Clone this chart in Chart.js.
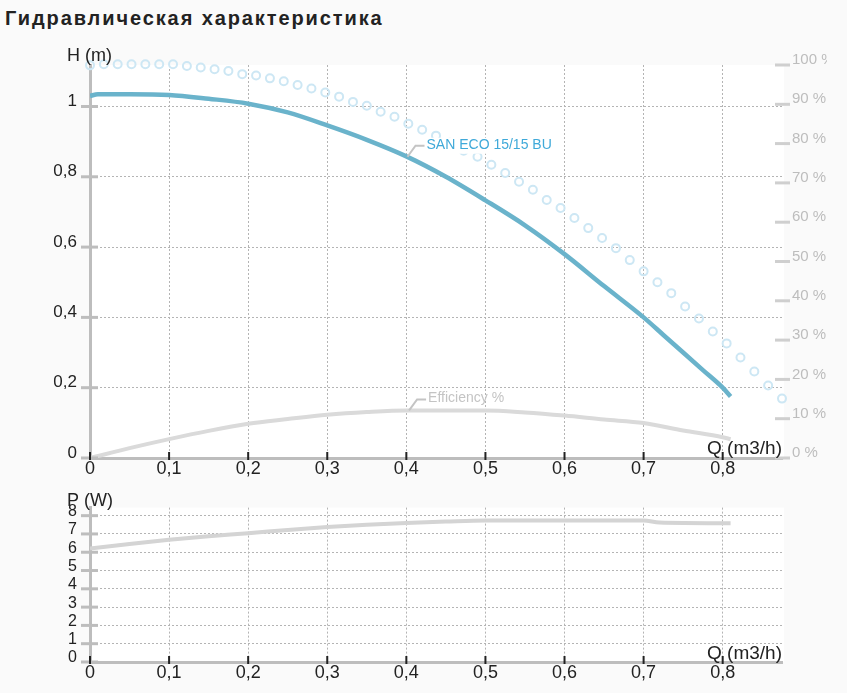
<!DOCTYPE html>
<html>
<head>
<meta charset="utf-8">
<script src="https://cdn.jsdelivr.net/npm/chart.js@4.4.1/dist/chart.umd.min.js"></script>
<style>
  html, body { margin: 0; padding: 0; background: #fafafa; }
  body { width: 847px; height: 693px; position: relative; overflow: hidden; font-family: "Liberation Sans", Arial, sans-serif; }
  #title { position: absolute; left: 5px; top: 6px; font-weight: bold; font-size: 20px; line-height: 24px; color: #222; letter-spacing: 1.9px; }
  #topBox { position: absolute; left: 0; top: 40px; width: 827px; height: 445px; }
  #botBox { position: absolute; left: 0; top: 485px; width: 827px; height: 208px; }
</style>
</head>
<body>
<div id="title">Гидравлическая характеристика</div>
<div id="topBox"><canvas id="headChart"></canvas></div>
<div id="botBox"><canvas id="powerChart"></canvas></div>
<script>
// pump curve H(Q)
const qHead = [0, 0.01, 0.05, 0.1, 0.15, 0.2, 0.25, 0.3, 0.35, 0.4, 0.45, 0.5, 0.55, 0.6, 0.65, 0.7, 0.725, 0.75, 0.775, 0.8, 0.81];
const headH = [1.03, 1.035, 1.035, 1.033, 1.022, 1.008, 0.983, 0.946, 0.905, 0.858, 0.80, 0.733, 0.662, 0.58, 0.489, 0.40, 0.35, 0.30, 0.25, 0.20, 0.175];

// max curve (circles)
const qMax = [0, 0.0175, 0.035, 0.0525, 0.07, 0.0875, 0.105, 0.1225, 0.14, 0.1575, 0.175, 0.1925, 0.21, 0.2275, 0.245, 0.2625, 0.28,
  0.2975, 0.315, 0.3325, 0.35, 0.3675, 0.385, 0.4025, 0.42, 0.4375, 0.455, 0.4725, 0.49, 0.5075, 0.525, 0.5425, 0.56, 0.5775,
  0.595, 0.6125, 0.63, 0.6475, 0.665, 0.6825, 0.7, 0.7175, 0.735, 0.7525, 0.77, 0.7875, 0.805, 0.8225, 0.84, 0.8575, 0.875];
const maxH = [1.117, 1.12, 1.12, 1.12, 1.12, 1.12, 1.12, 1.115, 1.111, 1.106, 1.101, 1.092, 1.088, 1.08, 1.072, 1.061, 1.051,
  1.04, 1.028, 1.013, 1.002, 0.985, 0.971, 0.951, 0.934, 0.917, 0.897, 0.874, 0.857, 0.834, 0.811, 0.786, 0.763, 0.734,
  0.711, 0.683, 0.654, 0.626, 0.597, 0.563, 0.531, 0.5, 0.469, 0.431, 0.397, 0.36, 0.326, 0.286, 0.246, 0.206, 0.169];

// efficiency %
const qEff = [0, 0.05, 0.1, 0.15, 0.2, 0.25, 0.3, 0.35, 0.4, 0.45, 0.5, 0.55, 0.6, 0.65, 0.7, 0.75, 0.8, 0.81];
const effPct = [0, 2.5, 4.8, 6.9, 8.7, 9.9, 11.0, 11.7, 12.1, 12.1, 12.1, 11.6, 10.8, 9.8, 8.9, 7.0, 5.3, 4.8];

// power W
const qPow = [0, 0.05, 0.1, 0.15, 0.2, 0.25, 0.3, 0.35, 0.4, 0.45, 0.5, 0.6, 0.7, 0.72, 0.81];
const powerW = [6.2, 6.45, 6.68, 6.88, 7.04, 7.22, 7.38, 7.5, 7.6, 7.68, 7.74, 7.74, 7.74, 7.62, 7.58];

// tick labels
const qTicks = ['0', '0,1', '0,2', '0,3', '0,4', '0,5', '0,6', '0,7', '0,8'];
const hTicks = ['0', '0,2', '0,4', '0,6', '0,8', '1'];
const pctTicks = ['0 %', '10 %', '20 %', '30 %', '40 %', '50 %', '60 %', '70 %', '80 %', '90 %', '100 %'];
const pTicks = ['0', '1', '2', '3', '4', '5', '6', '7', '8'];

const pumpName = 'SAN ECO 15/15 BU';
const effName = 'Efficiency %';

Chart.defaults.font.family = '"Liberation Sans", Arial, sans-serif';
Chart.defaults.color = '#222';

const toXY = (xs, ys) => xs.map((x, i) => ({ x: x, y: ys[i] }));

const plotBg = {
  id: 'plotBg',
  beforeDraw(chart) {
    const { ctx, chartArea: a } = chart;
    ctx.save();
    ctx.fillStyle = '#ffffff';
    ctx.fillRect(a.left, a.top, a.right - a.left + 2, a.bottom - a.top);
    ctx.restore();
  }
};

const decor = {
  id: 'decor',
  afterDraw(chart, args, o) {
    const { ctx, chartArea: a, scales } = chart;
    const xs = scales.x, ys = scales.y;
    ctx.save();
    // grey dashes across the left axis
    ctx.strokeStyle = '#bdbdbd';
    ctx.lineWidth = 3;
    ys.ticks.forEach((t, i) => {
      const y = ys.getPixelForTick(i);
      ctx.beginPath(); ctx.moveTo(a.left - 9, y); ctx.lineTo(a.left + 8, y); ctx.stroke();
    });
    // right axis dashes
    if (scales.y1) {
      ctx.strokeStyle = '#cfcfcf';
      scales.y1.ticks.forEach((t, i) => {
        const y = scales.y1.getPixelForTick(i);
        ctx.beginPath(); ctx.moveTo(a.right - 7, y); ctx.lineTo(a.right + 8, y); ctx.stroke();
      });
    }
    // small black ticks on the Q axis
    ctx.strokeStyle = '#222';
    ctx.lineWidth = 2;
    xs.ticks.forEach((t, i) => {
      const x = xs.getPixelForTick(i);
      ctx.beginPath(); ctx.moveTo(x, a.bottom - 6); ctx.lineTo(x, a.bottom + 2); ctx.stroke();
    });
    // axis titles
    ctx.fillStyle = '#222';
    ctx.textBaseline = 'middle';
    ctx.font = '18px "Liberation Sans", Arial, sans-serif';
    ctx.textAlign = 'left';
    ctx.fillText(o.yTitle, a.left - 23, a.top + o.yTitleDy);
    ctx.font = '19px "Liberation Sans", Arial, sans-serif';
    ctx.textAlign = 'right';
    ctx.fillText('Q (m3/h)', a.right, a.bottom + o.xTitleDy);
    // series labels with leader lines
    (o.notes || []).forEach(n => {
      const px = xs.getPixelForValue(n.q);
      const py = scales[n.axis].getPixelForValue(n.v);
      ctx.font = '14px "Liberation Sans", Arial, sans-serif';
      ctx.textAlign = 'left';
      const w = ctx.measureText(n.text).width;
      if (n.bg) {
        ctx.fillStyle = '#ffffff';
        ctx.fillRect(px + 16, py - 19, w + 4, 16);
      }
      ctx.strokeStyle = '#c4c4c4';
      ctx.lineWidth = 2;
      ctx.beginPath();
      ctx.moveTo(px - 2, py);
      ctx.lineTo(px + 6, py - 11);
      ctx.lineTo(px + 15, py - 11);
      ctx.stroke();
      ctx.fillStyle = n.color;
      ctx.fillText(n.text, px + 17, py - 12);
    });
    ctx.restore();
  }
};

const gridStyle = { color: '#b4b4b4', lineWidth: 1, drawTicks: false };
const axisBorder = { color: '#bdbdbd', width: 3, dash: [2, 2] };

new Chart(document.getElementById('headChart'), {
  type: 'line',
  data: {
    datasets: [
      {
        data: toXY(qMax, maxH),
        showLine: false,
        pointRadius: 4,
        pointBorderWidth: 2,
        pointBorderColor: '#cde7f4',
        pointBackgroundColor: 'rgba(0,0,0,0)',
        yAxisID: 'y',
        clip: 8
      },
      {
        data: toXY(qEff, effPct),
        borderColor: '#dadada',
        borderWidth: 4,
        pointRadius: 0,
        tension: 0.3,
        cubicInterpolationMode: 'monotone',
        yAxisID: 'y1'
      },
      {
        data: toXY(qHead, headH),
        borderColor: '#6ab3cb',
        borderWidth: 4.5,
        pointRadius: 0,
        tension: 0.3,
        cubicInterpolationMode: 'monotone',
        yAxisID: 'y'
      }
    ]
  },
  options: {
    responsive: true,
    maintainAspectRatio: false,
    animation: false,
    layout: { padding: { top: 25, left: 0, right: 0, bottom: 0 } },
    plugins: {
      legend: { display: false },
      tooltip: { enabled: false },
      decor: {
        yTitle: 'H (m)', yTitleDy: -9, xTitleDy: -9,
        notes: [
          { q: 0.404, v: 0.857, axis: 'y', text: pumpName, color: '#3fa9d9', bg: true },
          { q: 0.406, v: 12.1, axis: 'y1', text: effName, color: '#c4c4c4', bg: false }
        ]
      }
    },
    scales: {
      x: {
        type: 'linear', min: 0, max: 0.875,
        afterFit: s => { s.height = 27; },
        grid: gridStyle,
        border: axisBorder,
        ticks: {
          stepSize: 0.1, includeBounds: false, autoSkip: false, maxRotation: 0,
          padding: 0, color: '#222', font: { size: 18 },
          callback: (v, i) => qTicks[i]
        }
      },
      y: {
        position: 'left', min: 0, max: 1.118,
        afterFit: s => { s.width = 90; },
        grid: gridStyle,
        border: axisBorder,
        ticks: {
          stepSize: 0.2, includeBounds: false, autoSkip: false,
          padding: 13, labelOffset: -5, color: '#222', font: { size: 17 },
          callback: (v, i) => hTicks[i]
        }
      },
      y1: {
        position: 'right', min: 0, max: 100,
        afterFit: s => { s.width = 45; },
        grid: { display: false, drawTicks: false },
        border: { display: false },
        ticks: {
          stepSize: 10, includeBounds: false, autoSkip: false,
          padding: 10, labelOffset: -5, color: '#bdbdbd', font: { size: 15 },
          callback: (v, i) => pctTicks[i]
        }
      }
    }
  },
  plugins: [plotBg, decor]
});

new Chart(document.getElementById('powerChart'), {
  type: 'line',
  data: {
    datasets: [
      {
        data: toXY(qPow, powerW),
        borderColor: '#d4d4d4',
        borderWidth: 4,
        pointRadius: 0,
        tension: 0.2,
        cubicInterpolationMode: 'monotone'
      }
    ]
  },
  options: {
    responsive: true,
    maintainAspectRatio: false,
    animation: false,
    layout: { padding: { top: 20, left: 0, right: 45, bottom: 0 } },
    plugins: {
      legend: { display: false },
      tooltip: { enabled: false },
      decor: { yTitle: 'P (W)', yTitleDy: -7, xTitleDy: -8 }
    },
    scales: {
      x: {
        type: 'linear', min: 0, max: 0.875,
        afterFit: s => { s.height = 31; },
        grid: gridStyle,
        border: axisBorder,
        ticks: {
          stepSize: 0.1, includeBounds: false, autoSkip: false, maxRotation: 0,
          padding: 0, color: '#222', font: { size: 18 },
          callback: (v, i) => qTicks[i]
        }
      },
      y: {
        position: 'left', min: 0, max: 8.44,
        afterFit: s => { s.width = 90; },
        grid: gridStyle,
        border: axisBorder,
        ticks: {
          stepSize: 1, includeBounds: false, autoSkip: false,
          padding: 13, labelOffset: -4, color: '#222', font: { size: 16 },
          callback: (v, i) => pTicks[i]
        }
      }
    }
  },
  plugins: [plotBg, decor]
});
</script>
</body>
</html>
